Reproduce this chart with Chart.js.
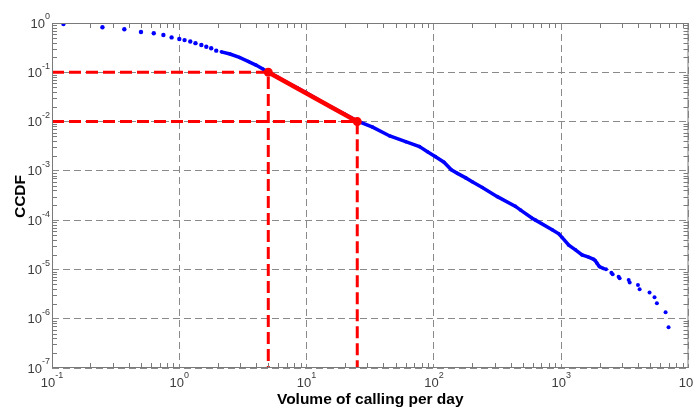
<!DOCTYPE html>
<html>
<head>
<meta charset="utf-8">
<script src="https://cdn.jsdelivr.net/npm/chart.js@4/dist/chart.umd.min.js"></script>
<style>
  html, body { margin: 0; padding: 0; background: #fff; }
  #wrap { width: 693px; height: 410px; }
</style>
</head>
<body>
<div id="wrap"><canvas id="ccdfChart" width="693" height="410"></canvas></div>
<script>
// axis ranges (decades)
const xDecades = [-1, 0, 1, 2, 3, 4];
const yDecades = [-7, -6, -5, -4, -3, -2, -1, 0];

// sparse points at the head of the curve
const headX = [0.123, 0.249, 0.37, 0.5, 0.63, 0.75, 0.87, 1.0, 1.1, 1.22, 1.34, 1.49, 1.63, 1.78, 1.95];
const headY = [0.955, 0.82, 0.745, 0.656, 0.62, 0.57, 0.51, 0.475, 0.45, 0.42, 0.39, 0.358, 0.33, 0.307, 0.275];

// dense body of the curve
const bodyX = [2.14, 2.5, 2.97, 3.5, 4.0, 4.5, 5, 6, 7, 8.5, 10, 12, 14, 17, 20, 23, 26, 33, 45, 60, 77, 89, 103, 120, 137, 153, 178, 200, 240, 315, 438, 480, 592, 628, 849, 957, 1019, 1148, 1294, 1459, 1644, 1800, 1854, 1910, 1995, 2157];
const bodyY = [0.26, 0.235, 0.2, 0.165, 0.14, 0.118, 0.1, 0.078, 0.062, 0.048, 0.038, 0.029, 0.023, 0.0175, 0.014, 0.0115, 0.0099, 0.0077, 0.0051, 0.0039, 0.0031, 0.00245, 0.00194, 0.0015, 0.00105, 0.00089, 0.00072, 0.0006, 0.00046, 0.0003, 0.00019, 0.00016, 0.000109, 0.0001, 0.000064, 0.000053, 0.000044, 0.000031, 0.000025, 0.0000197, 1.77e-5, 1.6e-5, 1.5e-5, 1.34e-5, 1.14e-5, 1.04e-5];

// sparse tail
const tailX = [2249, 2478, 2535, 2826, 2877, 3388, 3451, 4009, 4130, 4943, 5408, 5644, 6607, 6971];
const tailY = [1.01e-5, 8.6e-6, 8.0e-6, 7.1e-6, 6.6e-6, 6.1e-6, 5.4e-6, 4.85e-6, 3.96e-6, 3.39e-6, 2.73e-6, 2.06e-6, 1.35e-6, 6.7e-7];

// red guide marks
const markX = [5, 25];
const markY = [0.1, 0.01];

const xMin = Math.pow(10, xDecades[0]);
const xMax = Math.pow(10, xDecades[xDecades.length - 1]);
const yMin = Math.pow(10, yDecades[0]);
const yMax = Math.pow(10, yDecades[yDecades.length - 1]);

const toPts = (xs, ys) => xs.map((v, i) => ({ x: v, y: ys[i] }));
const guide = (i) => [{ x: xMin, y: markY[i] }, { x: markX[i], y: markY[i] }, { x: markX[i], y: yMin }];

const FONT = '"Liberation Sans", Arial, sans-serif';

function drawPow(ctx, exp, x, y, mode) {
  ctx.font = '13px ' + FONT;
  const bw = ctx.measureText('10').width;
  ctx.font = '9px ' + FONT;
  const ew = ctx.measureText(String(exp)).width;
  let left;
  if (mode === 'y') left = x - bw - ew;
  else left = x - (bw + ew) / 2;
  ctx.textAlign = 'left';
  ctx.textBaseline = 'middle';
  ctx.font = '13px ' + FONT;
  ctx.fillText('10', left, y);
  ctx.font = '9px ' + FONT;
  ctx.fillText(String(exp), left + bw, y - 7);
}

const axisDecor = {
  id: 'axisDecor',
  afterDraw(chart) {
    const { ctx, chartArea: a, scales: { x, y } } = chart;
    ctx.save();
    ctx.setLineDash([]);
    ctx.strokeStyle = '#7a7a7a';
    ctx.lineWidth = 1;
    ctx.strokeRect(a.left + 0.5, a.top + 0.5, a.width - 1, a.height - 1);

    // minor ticks
    ctx.beginPath();
    for (let e = xDecades[0]; e < xDecades[xDecades.length - 1]; e++) {
      for (let m = 2; m < 10; m++) {
        const px = Math.round(x.getPixelForValue(m * Math.pow(10, e))) + 0.5;
        ctx.moveTo(px, a.bottom); ctx.lineTo(px, a.bottom - 5);
        ctx.moveTo(px, a.top); ctx.lineTo(px, a.top + 5);
      }
    }
    for (let e = yDecades[0]; e < yDecades[yDecades.length - 1]; e++) {
      for (let m = 2; m < 10; m++) {
        const py = Math.round(y.getPixelForValue(m * Math.pow(10, e))) + 0.5;
        ctx.moveTo(a.left, py); ctx.lineTo(a.left + 5, py);
        ctx.moveTo(a.right, py); ctx.lineTo(a.right - 5, py);
      }
    }
    ctx.stroke();

    // tick labels
    ctx.fillStyle = '#3c3c3c';
    xDecades.forEach(e => drawPow(ctx, e, x.getPixelForValue(Math.pow(10, e)), a.bottom + 15, 'x'));
    yDecades.forEach(e => drawPow(ctx, e, a.left - 2, y.getPixelForValue(Math.pow(10, e)) + 1, 'y'));

    // axis titles
    ctx.fillStyle = '#000';
    ctx.font = 'bold 15.5px ' + FONT;
    ctx.textAlign = 'center';
    ctx.textBaseline = 'middle';
    ctx.fillText('Volume of calling per day', (a.left + a.right) / 2, 400);
    ctx.translate(21, (a.top + a.bottom) / 2 + 1);
    ctx.rotate(-Math.PI / 2);
    ctx.fillText('CCDF', 0, 0);
    ctx.restore();
  }
};

new Chart(document.getElementById('ccdfChart'), {
  type: 'scatter',
  data: {
    datasets: [
      {
        label: 'slope',
        data: toPts(markX, markY),
        showLine: true,
        borderColor: '#ff0000',
        backgroundColor: '#ff0000',
        borderWidth: 4.5,
        pointRadius: 4.5,
        pointBorderWidth: 0
      },
      {
        label: 'guide 1',
        data: guide(0),
        showLine: true,
        borderColor: '#ff0000',
        borderWidth: 3,
        borderDash: [12, 5],
        pointRadius: 0
      },
      {
        label: 'guide 2',
        data: guide(1),
        showLine: true,
        borderColor: '#ff0000',
        borderWidth: 3,
        borderDash: [12, 5],
        pointRadius: 0
      },
      {
        label: 'head',
        data: toPts(headX, headY),
        backgroundColor: '#0000ff',
        pointRadius: 2.2,
        pointBorderWidth: 0
      },
      {
        label: 'body',
        data: toPts(bodyX, bodyY),
        showLine: true,
        borderColor: '#0000ff',
        backgroundColor: '#0000ff',
        borderWidth: 3.5,
        pointRadius: 1.8,
        pointBorderWidth: 0
      },
      {
        label: 'tail',
        data: toPts(tailX, tailY),
        backgroundColor: '#0000ff',
        pointRadius: 2,
        pointBorderWidth: 0
      }
    ]
  },
  options: {
    responsive: false,
    animation: false,
    devicePixelRatio: 1,
    layout: { padding: { left: 52, top: 23, right: 3, bottom: 42 } },
    plugins: {
      legend: { display: false },
      tooltip: { enabled: false }
    },
    scales: {
      x: {
        type: 'logarithmic',
        min: xMin,
        max: xMax,
        afterBuildTicks: (s) => { s.ticks = xDecades.map(e => ({ value: Math.pow(10, e) })); },
        ticks: { display: false },
        grid: { color: '#8a8a8a', lineWidth: 1, drawTicks: false },
        border: { display: false, dash: [7, 4] }
      },
      y: {
        type: 'logarithmic',
        min: yMin,
        max: yMax,
        afterBuildTicks: (s) => { s.ticks = yDecades.map(e => ({ value: Math.pow(10, e) })); },
        ticks: { display: false },
        grid: { color: '#8a8a8a', lineWidth: 1, drawTicks: false },
        border: { display: false, dash: [7, 4] }
      }
    }
  },
  plugins: [axisDecor]
});
</script>
</body>
</html>
